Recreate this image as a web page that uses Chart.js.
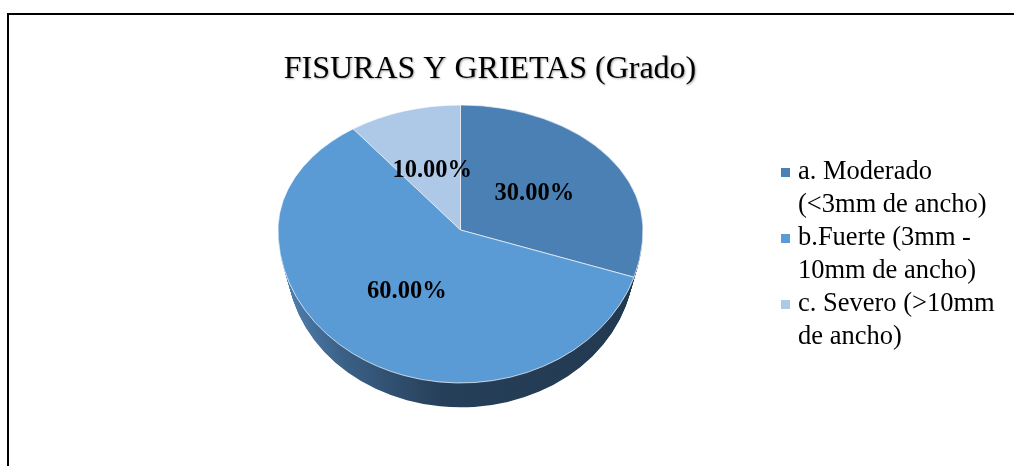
<!DOCTYPE html>
<html>
<head>
<meta charset="utf-8">
<script src="https://cdn.jsdelivr.net/npm/chart.js@4.4.0/dist/chart.umd.min.js"></script>
<style>
  html, body { margin: 0; padding: 0; background: #fff; overflow: hidden; }
  #frame { position: absolute; left: 7px; top: 13px; width: 1030px; height: 480px; border: 2px solid #000; box-sizing: border-box; }
  #c { position: absolute; left: 0; top: 0; }
</style>
</head>
<body>
<div id="frame"></div>
<canvas id="c" width="1014" height="466"></canvas>
<script>
// ---- data ----
const chartTitle = 'FISURAS Y GRIETAS (Grado)';
const categories = [
    ['a. Moderado', '(<3mm de ancho)'],
    ['b.Fuerte (3mm -', '10mm de ancho)'],
    ['c. Severo (>10mm', 'de ancho)']
];
const shares = [30, 60, 10];
const sliceColors = ['#4a80b4', '#5b9bd5', '#aec8e8'];

// 3D look (screen pixels)
const APEX_Y = 230;      // where the pie centre sits on screen
const RISE_UP = 125;     // back half of the top face
const RISE_DOWN = 153;   // front half (perspective makes it bigger)
const DEPTH = 32;
const SHRINK = 0.05;

const serif = '"Liberation Serif", "Times New Roman", serif';

// draw something twice, back half and front half with their own vertical squash
function withHalves(chart, cx, cy0, offset, s, kUp, kDown, paint) {
    const ctx = chart.ctx;
    const apex = APEX_Y + offset;
    [[0, apex, kUp], [apex, chart.height, kDown]].forEach(([y0, y1, k]) => {
        ctx.save();
        ctx.beginPath();
        ctx.rect(0, y0, chart.width, y1 - y0);
        ctx.clip();
        ctx.translate(cx, apex);
        ctx.scale(s, k * s);
        ctx.translate(-cx, -cy0);
        paint(ctx);
        ctx.restore();
    });
}

const pie3d = {
    id: 'pie3d',
    beforeDatasetsDraw(chart) {
        const arcs = chart.getDatasetMeta(0).data;
        const { x: cx, y: cy0, outerRadius: r } = arcs[0].getProps(['x', 'y', 'outerRadius'], true);
        const kUp = RISE_UP / r, kDown = RISE_DOWN / r;

        // side wall
        const grad = chart.ctx.createLinearGradient(cx - r, 0, cx + r, 0);
        grad.addColorStop(0, '#4f80b1');
        grad.addColorStop(0.18, '#3a5f84');
        grad.addColorStop(0.45, '#263f59');
        grad.addColorStop(1, '#223a50');
        for (let t = DEPTH; t >= 1; t--) {
            const s = 1 - SHRINK * t / DEPTH;
            withHalves(chart, cx, cy0, t, s, kUp, kDown, ctx => {
                arcs.forEach(a => {
                    const p = a.getProps(['x', 'y', 'startAngle', 'endAngle', 'outerRadius'], true);
                    ctx.beginPath();
                    ctx.moveTo(p.x, p.y);
                    ctx.arc(p.x, p.y, p.outerRadius, p.startAngle, p.endAngle);
                    ctx.closePath();
                    ctx.fillStyle = grad;
                    ctx.fill();
                });
            });
        }

        // top face, drawn by the arc elements themselves
        withHalves(chart, cx, cy0, 0, 1, kUp, kDown, ctx => {
            arcs.forEach(a => a.draw(ctx));
        });

        // percentage labels
        const ctx = chart.ctx;
        ctx.save();
        ctx.font = 'bold 24.5px ' + serif;
        ctx.fillStyle = '#000';
        ctx.textAlign = 'center';
        ctx.textBaseline = 'middle';
        const total = shares.reduce((m, v) => m + v, 0);
        arcs.forEach((a, i) => {
            const pt = a.getCenterPoint();
            const k = pt.y < cy0 ? kUp : kDown;
            const txt = (shares[i] / total * 100).toFixed(2) + '%';
            ctx.fillText(txt, pt.x, APEX_Y + (pt.y - cy0) * k);
        });
        ctx.restore();
        return false;
    },
    afterDraw(chart) {
        const ctx = chart.ctx;
        // title with soft shadow
        ctx.save();
        ctx.font = '32px ' + serif;
        ctx.textAlign = 'center';
        ctx.textBaseline = 'alphabetic';
        ctx.shadowColor = 'rgba(0,0,0,0.35)';
        ctx.shadowOffsetX = 1;
        ctx.shadowOffsetY = 1;
        ctx.shadowBlur = 2;
        ctx.fillStyle = '#000';
        ctx.fillText(chartTitle, 490, 78);
        ctx.restore();

        // legend
        ctx.save();
        ctx.font = '26.5px ' + serif;
        ctx.textBaseline = 'alphabetic';
        let y = 179;
        categories.forEach((lines, i) => {
            ctx.fillStyle = sliceColors[i];
            ctx.fillRect(781, y - 11, 9, 9);
            ctx.fillStyle = '#000';
            lines.forEach(line => {
                ctx.fillText(line, 798, y);
                y += 33;
            });
        });
        ctx.restore();
    }
};

new Chart(document.getElementById('c'), {
    type: 'pie',
    data: {
        labels: categories,
        datasets: [{
            data: shares,
            backgroundColor: sliceColors,
            borderColor: 'rgba(255,255,255,0.75)',
            borderWidth: 1
        }]
    },
    options: {
        responsive: false,
        animation: false,
        layout: { padding: { left: 277, right: 370, top: 50, bottom: 50 } },
        plugins: {
            legend: { display: false },
            title: { display: false },
            tooltip: { enabled: false }
        }
    },
    plugins: [pie3d]
});
</script>
</body>
</html>
